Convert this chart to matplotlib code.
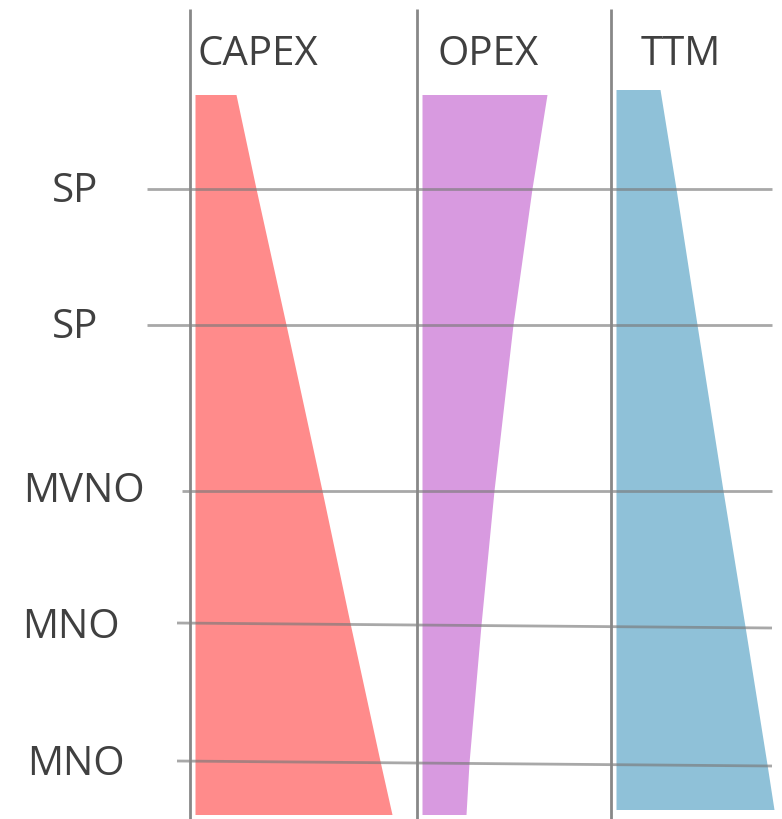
import matplotlib
matplotlib.use("Agg")
import matplotlib.pyplot as plt
from matplotlib.patches import Polygon

plt.rcParams['font.family'] = ['Open Sans', 'DejaVu Sans']

# ---- data ----
columns = ["CAPEX", "OPEX", "TTM"]
rows = ["SP", "SP", "MVNO", "MNO", "MNO"]
# wedge widths at: top, each row line, bottom
capex_widths = [41, 61, 91, 127, 155, 185, 197]
opex_widths = [125, 110, 91, 72, 59, 47, 44]
ttm_widths = [44, 60, 81, 107, 129, 151, 158]
colors = ["#FF8B8B", "#D89AE0", "#8FC1D8"]

# ---- layout ----
W, H = 782, 820
fig = plt.figure(figsize=(W / 100, H / 100), dpi=100)
ax = fig.add_axes([0, 0, 1, 1])
ax.set_xlim(0, W)
ax.set_ylim(H, 0)
ax.axis("off")

col_x = [190, 417, 611]
wedge_off = 5.5
tops = [96, 96, 91]
bottoms = [816, 816, 811]
row_y = [190, 326, 492, 624, 762]
row_y_right = [190, 326, 492, 629, 767]
row_line_start = [147, 147, 182, 177, 177]
row_label_x = [75, 75, 83.5, 71, 76]
row_label_base = [202, 338, 502, 638, 775]
col_label_x = [197, 438, 641]

widths = [capex_widths, opex_widths, ttm_widths]
for i, (cx, w, c) in enumerate(zip(col_x, widths, colors)):
    x0 = cx + wedge_off
    ys = [tops[i]]
    for ry, ryr in zip(row_y, row_y_right):
        ys.append(ry + (ryr - ry) * (x0 - row_line_start[0]) / (772 - row_line_start[0]))
    ys.append(bottoms[i])
    pts = [(x0, tops[i])] + [(x0 + wi, yi) for wi, yi in zip(w, ys)] + [(x0, bottoms[i])]
    ax.add_patch(Polygon(pts, closed=True, facecolor=c, edgecolor="none", zorder=1))

# vertical lines
for cx in col_x:
    ax.plot([cx, cx], [10, H], color="#888888", lw=2, zorder=3, solid_capstyle="butt")

# horizontal lines
for ry, ryr, xs in zip(row_y, row_y_right, row_line_start):
    ax.plot([xs, 772], [ry, ryr], color="#7a7a7a", lw=2, alpha=0.65, zorder=2,
            solid_capstyle="butt")

# labels
for name, x in zip(columns, col_label_x):
    ax.text(x, 65, name, fontsize=29, color="#404040", ha="left", va="baseline")
for name, x, y in zip(rows, row_label_x, row_label_base):
    ax.text(x, y, name, fontsize=29, color="#404040", ha="center", va="baseline")

fig.savefig("out.png", dpi=100)
